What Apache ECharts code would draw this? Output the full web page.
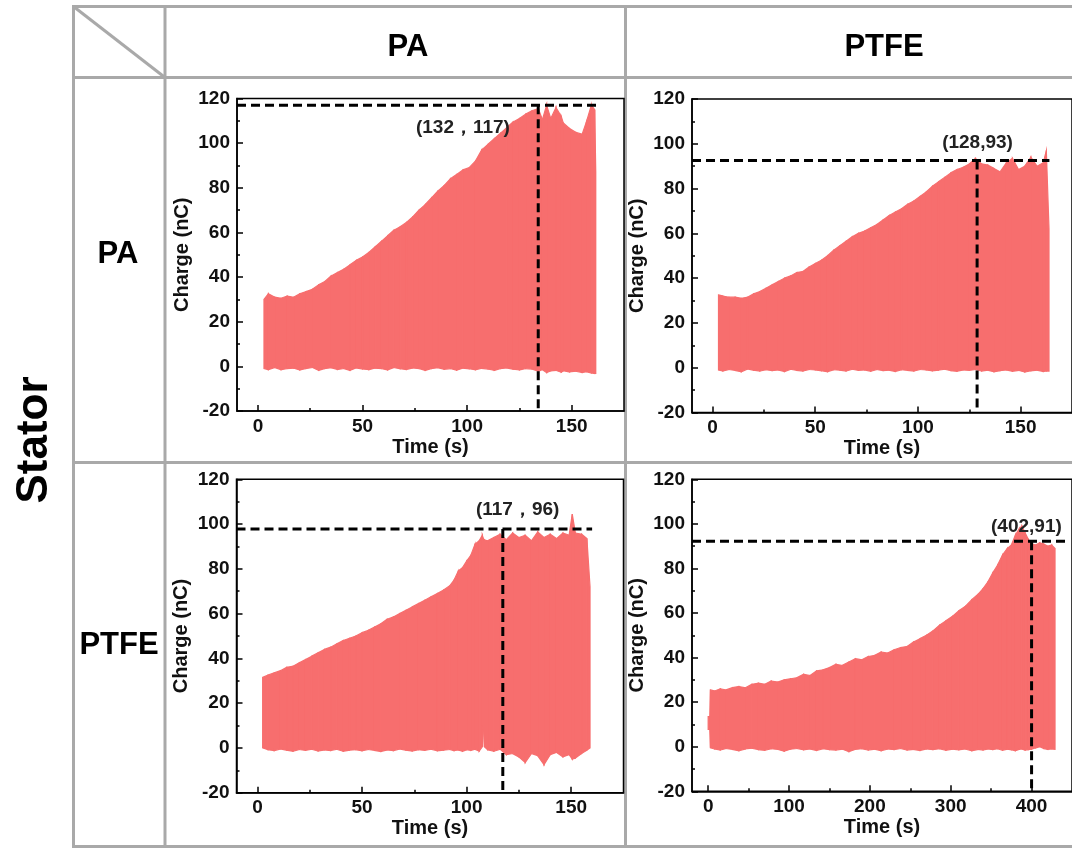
<!DOCTYPE html>
<html>
<head>
<meta charset="utf-8">
<script src="https://cdn.jsdelivr.net/npm/echarts@6/dist/echarts.min.js"></script>
<style>
html, body { margin: 0; padding: 0; background: #fff; }
#main { width: 1072px; height: 848px; }
</style>
</head>
<body>
<div id="main"></div>
<script>
// 定子 PA / 动子 PA
var t1 = [2.9, 5, 8, 11, 14, 17, 20, 23, 26, 29, 32, 35, 38, 41, 44, 47, 50, 53, 56, 59, 62, 65, 68, 71, 74, 77, 80, 83, 86, 89, 92, 95, 98, 101, 104, 107, 110, 113, 116, 119, 122, 125, 128, 131, 134, 136, 138, 140, 142.5, 145, 146, 149, 152, 155, 157, 159.4, 161, 161.5];
var up1 = [30, 32.5, 31, 30.5, 31.5, 31, 32.5, 33.5, 34.5, 36.5, 38, 40.5, 42, 43.5, 45.5, 47.5, 49, 51, 53.5, 56, 58.5, 61, 62.5, 64.5, 67, 70, 72.5, 75.5, 78.5, 81, 84, 86, 88, 89, 92, 97, 99.5, 102, 104.5, 107, 109.5, 111, 113, 114.5, 115.5, 110.5, 117, 111, 116, 112, 109, 106.5, 104.8, 104, 109.4, 117, 115, 87];
var lo1 = [-1, -1.5, -0.5, -1.5, -1, -0.8, -1.6, -1, -0.5, -1.8, -1, -0.6, -1.4, -1, -1.8, -0.7, -1.2, -1.5, -0.8, -1, -1.6, -0.5, -1.1, -1.4, -0.7, -1, -1.8, -1, -0.6, -1.3, -1, -1.7, -0.8, -1.1, -1.5, -0.9, -1.2, -1.8, -1, -0.7, -1.3, -1.6, -1, -1.2, -2.2, -1.5, -2.8, -2, -1.8, -2.6, -2, -2.5, -2.2, -2.8, -2.4, -3, -3.2, -3.2];

// 定子 PA / 动子 PTFE
var t2 = [2.9, 5, 8, 11, 14, 17, 20, 23, 26, 29, 32, 35, 38, 41, 44, 47, 50, 53, 56, 59, 62, 65, 68, 71, 74, 77, 80, 83, 86, 89, 92, 95, 98, 101, 104, 107, 110, 113, 116, 119, 122, 125, 128, 131, 134, 137, 140, 143, 146, 149, 152, 155, 158, 161, 162.5, 163.8];
var up2 = [32.5, 32, 31.5, 31.5, 31, 31.5, 33, 34, 35.5, 37, 38.5, 40, 41, 42.5, 43, 45, 46.5, 48, 50, 52.5, 54.5, 56.5, 58.5, 60, 61, 62.5, 64, 66, 68, 69.5, 71, 73, 74.5, 76.5, 78.5, 81, 83, 85, 87, 88.5, 89.5, 91, 93.5, 91, 90.5, 89, 87.5, 91.5, 93.5, 88.5, 90, 94, 90, 91.5, 97, 62];
var lo2 = [-1, -1.5, -0.8, -1.2, -1.8, -0.6, -1.1, -1.5, -0.9, -1.3, -1, -1.7, -0.7, -1.2, -1.5, -0.8, -1, -1.4, -1.8, -0.9, -1.1, -1.5, -0.7, -1.2, -1, -1.6, -0.8, -1.3, -1.1, -1.7, -0.9, -1.2, -1.5, -0.8, -1, -1.4, -1.1, -0.7, -1.3, -1.6, -1, -1.2, -0.8, -1.5, -1.1, -1.8, -1.3, -1, -1.6, -1.2, -1.9, -1.4, -1.1, -1.7, -1.5, -1.5];

// 定子 PTFE / 动子 PA
var t3 = [2.5, 5, 8, 11, 14, 17, 20, 23, 26, 29, 32, 35, 38, 41, 44, 47, 50, 53, 56, 59, 62, 65, 68, 71, 74, 77, 80, 83, 86, 89, 92, 94, 96, 98, 100, 102, 104, 106, 107.5, 108, 108.5, 110, 113, 116, 119, 122, 125, 128, 131, 134, 137, 140, 143, 146, 149, 150.5, 152, 155, 157.5, 159];
var up3 = [31.5, 32.5, 33.5, 34.5, 36, 36.5, 38, 39.5, 41, 42.5, 44, 45, 46.5, 48, 49, 50, 51.5, 52.5, 54, 55.5, 57.5, 58.5, 60, 61.5, 63, 64.5, 66, 67.5, 69, 70.5, 72.5, 75, 79, 80.5, 83.5, 86, 91, 92.5, 95, 93.5, 93, 92.5, 94, 95.5, 93, 96, 94, 95, 92.5, 96.5, 94, 95.5, 93.5, 96, 95, 104.5, 96, 95.5, 93.5, 72];
var lo3 = [0, -0.8, -1.2, -0.5, -1, -1.5, -0.7, -1.1, -0.6, -1.4, -0.9, -1.2, -0.6, -1.5, -1, -0.8, -1.3, -0.7, -1.1, -1.6, -0.9, -1.2, -0.5, -1, -1.4, -0.8, -1.1, -0.6, -1.3, -1, -0.7, -1.2, -0.9, -1.5, -0.8, -1.1, -0.6, -1.4, 0.5, 10, 0.5, -0.8, -1.5, -0.6, -3, -2.5, -4, -6.5, -2.5, -3.5, -7.5, -3, -2, -4, -3, -5, -4.5, -2.5, -1, 0];

// 定子 PTFE / 动子 PTFE
var t4 = [0, 2, 2.8, 8, 15, 22, 30, 38, 46, 54, 62, 70, 78, 86, 94, 102, 110, 118, 126, 134, 142, 150, 158, 166, 174, 182, 190, 198, 206, 214, 222, 230, 238, 246, 254, 262, 270, 278, 286, 294, 302, 310, 318, 326, 334, 340, 346, 352, 358, 364, 370, 375, 380, 385, 388, 392, 396, 400, 405, 410, 415, 420, 425, 429];
var up4 = [13.5, 13.5, 25.5, 25, 26, 25.5, 26.5, 27, 26.5, 28, 28.5, 28, 29.5, 29, 30, 30.5, 31, 32.5, 32, 34, 34.5, 35.5, 37, 36.5, 38, 39.5, 39, 40.5, 41, 42.5, 42, 43.5, 44.5, 45, 47, 48.5, 50, 52, 54.5, 56.5, 58.5, 61, 63, 66, 68.5, 71, 74, 78, 81.5, 86, 89, 90.5, 95, 98, 99, 96, 93, 91, 90.5, 91.5, 91, 90, 90.5, 89];
var lo4 = [7.8, 7.8, -0.5, -1, -1.5, -0.8, -1.2, -1.8, -1, -0.7, -1.3, -1.6, -0.9, -1.2, -2, -1.1, -0.8, -1.4, -1, -1.7, -0.9, -1.3, -1.5, -1.1, -2.2, -1.2, -0.9, -1.5, -1.1, -1.8, -1, -1.3, -0.8, -1.5, -1.2, -1.7, -1, -1.3, -0.9, -1.6, -1.1, -1.4, -1, -1.8, -1.2, -1.5, -1, -1.3, -0.9, -1.6, -1.1, -1.4, -1.8, -1.2, -1, -1.5, -1.3, -1.1, -0.5, 0, -0.8, -1.2, -1, -1.2];

// 坐标轴刻度
var yTicks = [-20, 0, 20, 40, 60, 80, 100, 120];
var xLabelsShort = [0, 50, 100, 150];
var xMinorShort = [25, 75, 125];
var xLabelsLong = [0, 100, 200, 300, 400];
var xMinorLong = [50, 150, 250, 350];

// 虚线标注
var guideH1 = [[-10, 117], [162, 117]], guideV1 = [[134, 117], [134, -20]];
var guideH2 = [[-10, 92.5], [164, 92.5]], guideV2 = [[128.8, 92.5], [128.8, -20]];
var guideH3 = [[-10, 97.8], [160, 97.8]], guideV3 = [[117.3, 97.8], [117.3, -20]];
var guideH4 = [[-20, 92.2], [445, 92.2]], guideV4 = [[400, 92.2], [400, -20]];
var peakText = ['(132，117)', '(128,93)', '(117，96)', '(402,91)'];
var peakPos = [[98, 107], [129, 100.6], [124.4, 106.3], [393.6, 98.8]];

var FONT = "'Liberation Sans', Arial, sans-serif";
var FILL = '#F76E6E';
var GRAY = '#a9a9a9';

var panels = [
    {t: t1, up: up1, lo: lo1, xMin: -10, xMax: 175, labels: xLabelsShort, minor: xMinorShort, gh: guideH1, gv: guideV1,
        box: {left: 237, top: 98.5, width: 387, height: 312.5}},
    {t: t2, up: up2, lo: lo2, xMin: -10, xMax: 175, labels: xLabelsShort, minor: xMinorShort, gh: guideH2, gv: guideV2,
        box: {left: 692, top: 99, width: 388, height: 313.5}},
    {t: t3, up: up3, lo: lo3, xMin: -10, xMax: 175, labels: xLabelsShort, minor: xMinorShort, gh: guideH3, gv: guideV3,
        box: {left: 236.5, top: 479.3, width: 387, height: 313.4}},
    {t: t4, up: up4, lo: lo4, xMin: -20, xMax: 450, labels: xLabelsLong, minor: xMinorLong, gh: guideH4, gv: guideV4,
        box: {left: 692, top: 479.3, width: 390, height: 312}}
];

var nameStyle = {fontFamily: FONT, fontWeight: 'bold', fontSize: 20, color: '#111'};
var blackLine = {color: '#000', width: 1.5};

// 只画刻度的辅助x轴
function tickAxis(i, p, values, len) {
    return {
        gridIndex: i, type: 'value', min: p.xMin, max: p.xMax, position: 'bottom',
        axisLine: {show: false, onZero: false},
        axisTick: {show: true, inside: true, length: len, customValues: values, lineStyle: blackLine},
        axisLabel: {show: false},
        splitLine: {show: false}, z: 6
    };
}

var grids = [], xAxes = [], yAxes = [], series = [];

panels.forEach(function (p, i) {
    grids.push({
        left: p.box.left, top: p.box.top, width: p.box.width, height: p.box.height,
        show: true, borderColor: '#000', borderWidth: 1.5, z: 5
    });
    xAxes.push({
        gridIndex: i, type: 'value', min: p.xMin, max: p.xMax, position: 'bottom',
        name: 'Time (s)', nameLocation: 'middle', nameGap: 26, nameTextStyle: nameStyle,
        axisLine: {show: true, onZero: false, lineStyle: blackLine},
        axisTick: {show: false},
        axisLabel: {show: true, customValues: p.labels, margin: 6, fontFamily: FONT, fontWeight: 'bold', fontSize: 19, color: '#111'},
        splitLine: {show: false}, z: 6
    });
    xAxes.push(tickAxis(i, p, p.labels, 6));
    xAxes.push(tickAxis(i, p, p.minor, 3));
    yAxes.push({
        gridIndex: i, type: 'value', min: yTicks[0], max: yTicks[yTicks.length - 1], interval: 20,
        name: 'Charge (nC)', nameLocation: 'middle', nameGap: 45, nameTextStyle: nameStyle,
        axisLine: {show: true, onZero: false, lineStyle: blackLine},
        axisTick: {show: true, inside: true, length: 6, lineStyle: blackLine},
        minorTick: {show: true, splitNumber: 2, length: 3, lineStyle: blackLine},
        axisLabel: {margin: 7, fontFamily: FONT, fontWeight: 'bold', fontSize: 19, color: '#111'},
        splitLine: {show: false}, z: 6
    });

    var band = p.t.map(function (x, k) { return [x, p.up[k], p.lo[k]]; });
    series.push({
        type: 'custom', xAxisIndex: 3 * i, yAxisIndex: i, clip: true, z: 2, silent: true,
        encode: {x: 0, y: [1, 2]},
        data: band,
        renderItem: function (params, api) {
            var k = params.dataIndex;
            if (k >= band.length - 1) return null;
            var a = band[k], b = band[k + 1];
            return {
                type: 'polygon',
                shape: {points: [api.coord([a[0], a[1]]), api.coord([b[0], b[1]]), api.coord([b[0], b[2]]), api.coord([a[0], a[2]])]},
                style: {fill: FILL, stroke: FILL, lineWidth: 1.2}
            };
        }
    });
    [p.gh, p.gv].forEach(function (g) {
        series.push({
            type: 'line', xAxisIndex: 3 * i, yAxisIndex: i, data: g, symbol: 'none', silent: true, z: 4,
            lineStyle: {color: '#000', width: 3, type: [9, 5]}
        });
    });
});

function gline(x1, y1, x2, y2) {
    return {type: 'line', silent: true, shape: {x1: x1, y1: y1, x2: x2, y2: y2}, style: {stroke: GRAY, lineWidth: 3}};
}
function gtext(txt, x, y, size, rot, color) {
    return {
        type: 'text', x: x, y: y, rotation: rot || 0, silent: true, z: 10,
        style: {text: txt, font: 'bold ' + size + 'px ' + FONT, fill: color || '#000', align: 'center', verticalAlign: 'middle'}
    };
}

var chart = echarts.init(document.getElementById('main'));
chart.setOption({
    animation: false,
    backgroundColor: '#fff',
    grid: grids,
    xAxis: xAxes,
    yAxis: yAxes,
    series: series
});

var graphics = [
    gline(73.5, 6.5, 1072, 6.5),
    gline(73.5, 77.5, 1072, 77.5),
    gline(73.5, 462.5, 1072, 462.5),
    gline(73.5, 846.5, 1072, 846.5),
    gline(73.5, 5, 73.5, 848),
    gline(165, 5, 165, 848),
    gline(625.5, 5, 625.5, 848),
    gline(73.5, 6.5, 165, 77.5),
    gtext('PA', 408, 47, 31),
    gtext('PTFE', 884, 47, 31),
    gtext('PA', 118, 254, 31),
    gtext('PTFE', 119, 645, 31),
    gtext('Stator', 35, 440, 44, Math.PI / 2)
];
// 峰值标注，位置由坐标轴换算
peakPos.forEach(function (pos, i) {
    var px = chart.convertToPixel({xAxisIndex: 3 * i, yAxisIndex: i}, pos);
    graphics.push(gtext(peakText[i], px[0], px[1], 19, 0, '#222'));
});
chart.setOption({graphic: graphics});
</script>
</body>
</html>
